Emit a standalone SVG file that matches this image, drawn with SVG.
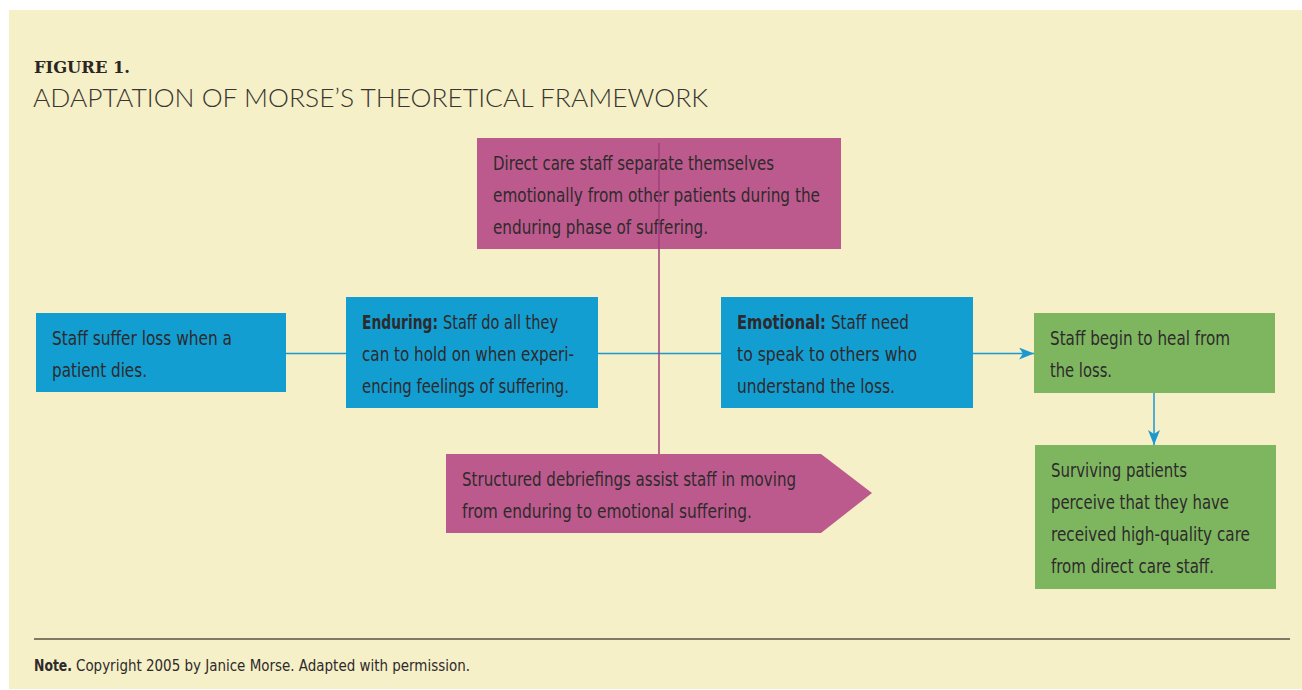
<svg xmlns="http://www.w3.org/2000/svg" width="1302" height="690" viewBox="0 0 1302 690">
<style>
.bg{fill:#ffffff}
.panel{fill:#f5f0c7}
.blue{fill:#139ed2}
.green{fill:#7eb660}
.pink{fill:#bd5a8d}
.t{font-family:"DejaVu Sans Condensed","DejaVu Sans","Liberation Sans",sans-serif;font-stretch:condensed;font-size:19.5px;fill:#2e2a2c}
.b{font-weight:bold}
.fig{font-family:"DejaVu Serif","Liberation Serif",serif;font-weight:bold;font-size:16.5px;fill:#2b2623}
.sub{font-family:Lato,"Open Sans","Liberation Sans",sans-serif;font-weight:300;font-size:26px;fill:#3a3530}
.note{font-family:"DejaVu Sans Condensed","DejaVu Sans","Liberation Sans",sans-serif;font-stretch:condensed;font-size:15.5px;fill:#2e2a2c}
.flow{stroke:#1a98cf;stroke-width:1.5;fill:none}
.mid{stroke:#a23f7c;stroke-width:1.5;fill:none}
</style>
<defs>
<marker id="ah" markerUnits="userSpaceOnUse" markerWidth="18" markerHeight="14" refX="15" refY="6" orient="auto">
<path d="M0,0 L15,6 L0,12 L4,6 Z" fill="#1a98cf"/>
</marker>
</defs>
<rect class="bg" x="0" y="0" width="1302" height="690"/>
<rect class="panel" x="9" y="10" width="1293" height="679"/>
<g id="title">
<text class="fig" x="34" y="73" textLength="96" lengthAdjust="spacingAndGlyphs">FIGURE 1.</text>
<text class="sub" x="33" y="107" textLength="675" lengthAdjust="spacingAndGlyphs">ADAPTATION OF MORSE’S THEORETICAL FRAMEWORK</text>
</g>
<g id="n-loss">
<rect class="blue" x="36" y="313" width="250" height="79"/>
<text class="t" x="52" y="345" textLength="180" lengthAdjust="spacingAndGlyphs">Staff suffer loss when a</text>
<text class="t" x="52" y="377" textLength="95" lengthAdjust="spacingAndGlyphs">patient dies.</text>
</g>
<g id="n-enduring">
<rect class="blue" x="346" y="297" width="252" height="111"/>
<text class="t b" transform="translate(362,329) scale(0.8,1)" x="0" y="0" textLength="95" lengthAdjust="spacingAndGlyphs">Enduring:</text>
<text class="t" x="443" y="329" textLength="115" lengthAdjust="spacingAndGlyphs">Staff do all they</text>
<text class="t" x="362" y="361" textLength="212" lengthAdjust="spacingAndGlyphs">can to hold on when experi-</text>
<text class="t" x="362" y="393" textLength="207" lengthAdjust="spacingAndGlyphs">encing feelings of suffering.</text>
</g>
<g id="n-separate">
<rect class="pink" x="477" y="138" width="364" height="111"/>
<text class="t" x="493" y="170" textLength="281" lengthAdjust="spacingAndGlyphs">Direct care staff separate themselves</text>
<text class="t" x="493" y="202" textLength="327" lengthAdjust="spacingAndGlyphs">emotionally from other patients during the</text>
<text class="t" x="493" y="234" textLength="215" lengthAdjust="spacingAndGlyphs">enduring phase of suffering.</text>
</g>
<g id="n-debrief">
<path class="pink" d="M446,454 L821,454 L872,493 L821,533 L446,533 Z"/>
<text class="t" x="462" y="486" textLength="334" lengthAdjust="spacingAndGlyphs">Structured debriefings assist staff in moving</text>
<text class="t" x="462" y="518" textLength="290" lengthAdjust="spacingAndGlyphs">from enduring to emotional suffering.</text>
</g>
<g id="n-emotional">
<rect class="blue" x="721" y="297" width="252" height="111"/>
<text class="t b" transform="translate(737,329) scale(0.85,1)" x="0" y="0" textLength="104.7" lengthAdjust="spacingAndGlyphs">Emotional:</text>
<text class="t" x="831" y="329" textLength="78" lengthAdjust="spacingAndGlyphs">Staff need</text>
<text class="t" x="737" y="361" textLength="180" lengthAdjust="spacingAndGlyphs">to speak to others who</text>
<text class="t" x="737" y="393" textLength="158" lengthAdjust="spacingAndGlyphs">understand the loss.</text>
</g>
<g id="n-heal">
<rect class="green" x="1034" y="313" width="241" height="80"/>
<text class="t" x="1050" y="345" textLength="180" lengthAdjust="spacingAndGlyphs">Staff begin to heal from</text>
<text class="t" x="1050" y="377" textLength="62" lengthAdjust="spacingAndGlyphs">the loss.</text>
</g>
<g id="n-patients">
<rect class="green" x="1035" y="445" width="241" height="144"/>
<text class="t" x="1051" y="477" textLength="136" lengthAdjust="spacingAndGlyphs">Surviving patients</text>
<text class="t" x="1051" y="509" textLength="178" lengthAdjust="spacingAndGlyphs">perceive that they have</text>
<text class="t" x="1051" y="541" textLength="199" lengthAdjust="spacingAndGlyphs">received high-quality care</text>
<text class="t" x="1051" y="573" textLength="163" lengthAdjust="spacingAndGlyphs">from direct care staff.</text>
</g>
<g id="connectors">
<line class="flow" x1="286" y1="353.5" x2="346" y2="353.5"/>
<line class="flow" x1="598" y1="353.5" x2="721" y2="353.5"/>
<line class="flow" x1="973" y1="353.5" x2="1034" y2="353.5" marker-end="url(#ah)"/>
<line class="flow" x1="1154" y1="393" x2="1154" y2="445" marker-end="url(#ah)"/>
<line class="mid" x1="659" y1="143" x2="659" y2="454"/>
</g>
<g id="footer">
<line x1="34" y1="639" x2="1290" y2="639" stroke="#5a5242" stroke-width="1.5"/>
<text class="note b" x="34" y="671" textLength="38" lengthAdjust="spacingAndGlyphs">Note.</text>
<text class="note" x="76" y="671" textLength="394" lengthAdjust="spacingAndGlyphs">Copyright 2005 by Janice Morse. Adapted with permission.</text>
</g>
</svg>
